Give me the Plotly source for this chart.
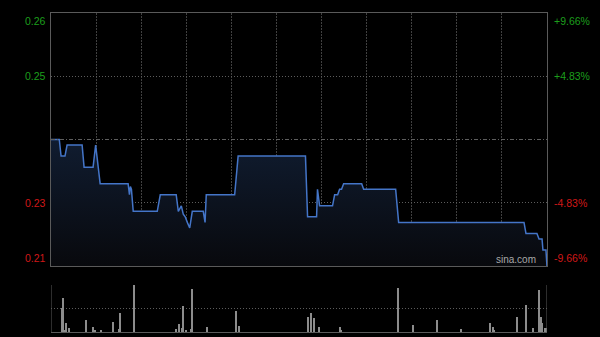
import plotly.graph_objects as go

# ---- data ----
prev_close = 0.237
price_minutes = [0, 5.5, 6.7, 9.3, 10.7, 20.7, 22, 28, 29.7, 32.7, 51.3, 52.2, 52.8, 53.5, 54.7,
                 70.7, 72.7, 83.3, 84.7, 86.7, 88, 89.3, 90.7, 92.3, 94, 101.3, 102.5, 103.3,
                 122.2, 124.5, 169.3, 170.7, 176.7, 177.3, 178.7, 187.3, 188.7, 190.7, 192,
                 193.3, 194.7, 206.7, 208, 229.3, 231.3, 314.7, 316, 323.3, 324.7, 326.7,
                 327.3, 329.3, 330]
prices = [0.237, 0.237, 0.234, 0.234, 0.236, 0.236, 0.232, 0.232, 0.236, 0.229, 0.229, 0.227,
          0.2285, 0.228, 0.224, 0.224, 0.227, 0.227, 0.224, 0.225, 0.2235, 0.223, 0.222, 0.221,
          0.224, 0.224, 0.222, 0.227, 0.227, 0.234, 0.234, 0.223, 0.223, 0.228, 0.225, 0.225,
          0.227, 0.227, 0.228, 0.228, 0.229, 0.229, 0.228, 0.228, 0.222, 0.222, 0.220, 0.220,
          0.219, 0.219, 0.217, 0.217, 0.214]

vol_minutes = [7, 8, 9, 10, 12, 23, 28, 29, 33, 41, 45, 46, 55, 83, 85, 87, 88, 90, 93, 94,
               104, 123, 125, 171, 173, 175, 178, 192, 193, 231, 241, 257, 273, 292, 294, 295,
               310, 316, 321, 325, 326, 327, 329, 330]
volumes = [24, 34, 2, 9, 4, 12, 5, 2, 2, 10, 3, 19, 47, 3, 8, 4, 26, 2, 3, 43,
           5, 21, 6, 15, 19, 14, 5, 5, 2, 44, 7, 12, 3, 9, 5, 2,
           15, 27, 4, 42, 15, 9, 4, 4]

left_labels = ["0.26", "0.25", "0.23", "0.21"]
right_labels = ["+9.66%", "+4.83%", "-4.83%", "-9.66%"]
pct_levels = [0.0966, 0.0483, -0.0483, -0.0966]

# ---- derived ----
hi = prev_close * (1 + 0.0966)
lo = prev_close * (1 - 0.0966)
level_prices = [prev_close * (1 + p) for p in pct_levels]
label_colors = ["#1c9e1c", "#1c9e1c", "#d01818", "#d01818"]

fig = go.Figure()

# baseline for fill
fig.add_trace(go.Scatter(x=[0, 330], y=[lo, lo], mode="lines", line=dict(width=0),
                         hoverinfo="skip", showlegend=False, xaxis="x", yaxis="y"))
fig.add_trace(go.Scatter(
    x=price_minutes, y=prices, mode="lines",
    line=dict(color="#4475c8", width=1.5),
    fill="tonexty",
    fillgradient=dict(type="vertical",
                      colorscale=[[0, "#08090d"], [1, "#101c30"]],
                      start=lo, stop=prev_close),
    showlegend=False, xaxis="x", yaxis="y"))

fig.add_trace(go.Bar(x=vol_minutes, y=volumes, width=0.7,
                     marker=dict(color="#8c8c8c", line=dict(width=0)),
                     showlegend=False, xaxis="x2", yaxis="y2"))

vgrid = "#404040"
hgrid = "#5c5c5c"
border = "#5a5a5a"

fig.update_layout(
    width=600, height=337,
    margin=dict(l=51, r=53, t=13, b=5),
    paper_bgcolor="#000000", plot_bgcolor="#000000",
    showlegend=False,
    bargap=0,
    xaxis=dict(domain=[0, 1], range=[0, 330], tickvals=list(range(30, 330, 30)),
               showticklabels=False, ticks="", showgrid=True, gridcolor=vgrid, griddash="2px,1px",
               gridwidth=1, zeroline=False, showline=True, mirror=True, linecolor=border,
               linewidth=1, anchor="y"),
    yaxis=dict(domain=[0.2069, 1], range=[lo, hi], tickvals=[level_prices[1], level_prices[2]],
               showticklabels=False, ticks="", showgrid=True, gridcolor=hgrid, griddash="1px,2px",
               zeroline=False, showline=True, mirror=True, linecolor=border, linewidth=1,
               anchor="x"),
    xaxis2=dict(domain=[0, 1], range=[0, 330], showticklabels=False, ticks="", showgrid=False,
                zeroline=False, showline=True, mirror=False, linecolor=border, linewidth=1,
                anchor="y2"),
    yaxis2=dict(domain=[0, 0.1473], range=[0, max(volumes)], tickvals=[max(volumes) / 2, max(volumes)],
                showticklabels=False, ticks="", showgrid=True, gridcolor=hgrid, griddash="1px,2px",
                zeroline=False, showline=False, anchor="x2"),
)

# volume panel side borders (solid)
for xv in (0, 330):
    fig.add_shape(type="line", xref="x2", yref="y2", x0=xv, x1=xv, y0=0, y1=max(volumes),
                  line=dict(color=border, width=1))

# previous close dashed line
fig.add_shape(type="line", xref="x", yref="y", x0=0, x1=330, y0=prev_close, y1=prev_close,
              line=dict(color="#5e5e5e", width=1, dash="4px,2px,1px,2px"))

font_family = "Liberation Sans, Arial, sans-serif"
for i, (lp, ll, rl, col) in enumerate(zip(level_prices, left_labels, right_labels, label_colors)):
    yanchor = "top" if i == 0 else ("bottom" if i == 3 else "middle")
    fig.add_annotation(x=0, xref="paper", y=lp, yref="y", text=ll, showarrow=False,
                       xanchor="right", yanchor=yanchor, xshift=-3,
                       font=dict(family=font_family, size=10.5, color=col))
    fig.add_annotation(x=1, xref="paper", y=lp, yref="y", text=rl, showarrow=False,
                       xanchor="left", yanchor=yanchor, xshift=5,
                       font=dict(family=font_family, size=10.5, color=col))

fig.add_annotation(x=1, xref="paper", y=lo, yref="y", text="sina.com", showarrow=False,
                   xanchor="right", yanchor="bottom", xshift=-9, yshift=-1,
                   font=dict(family=font_family, size=10, color="#a8a8a8"))

fig.write_html("out.html")
